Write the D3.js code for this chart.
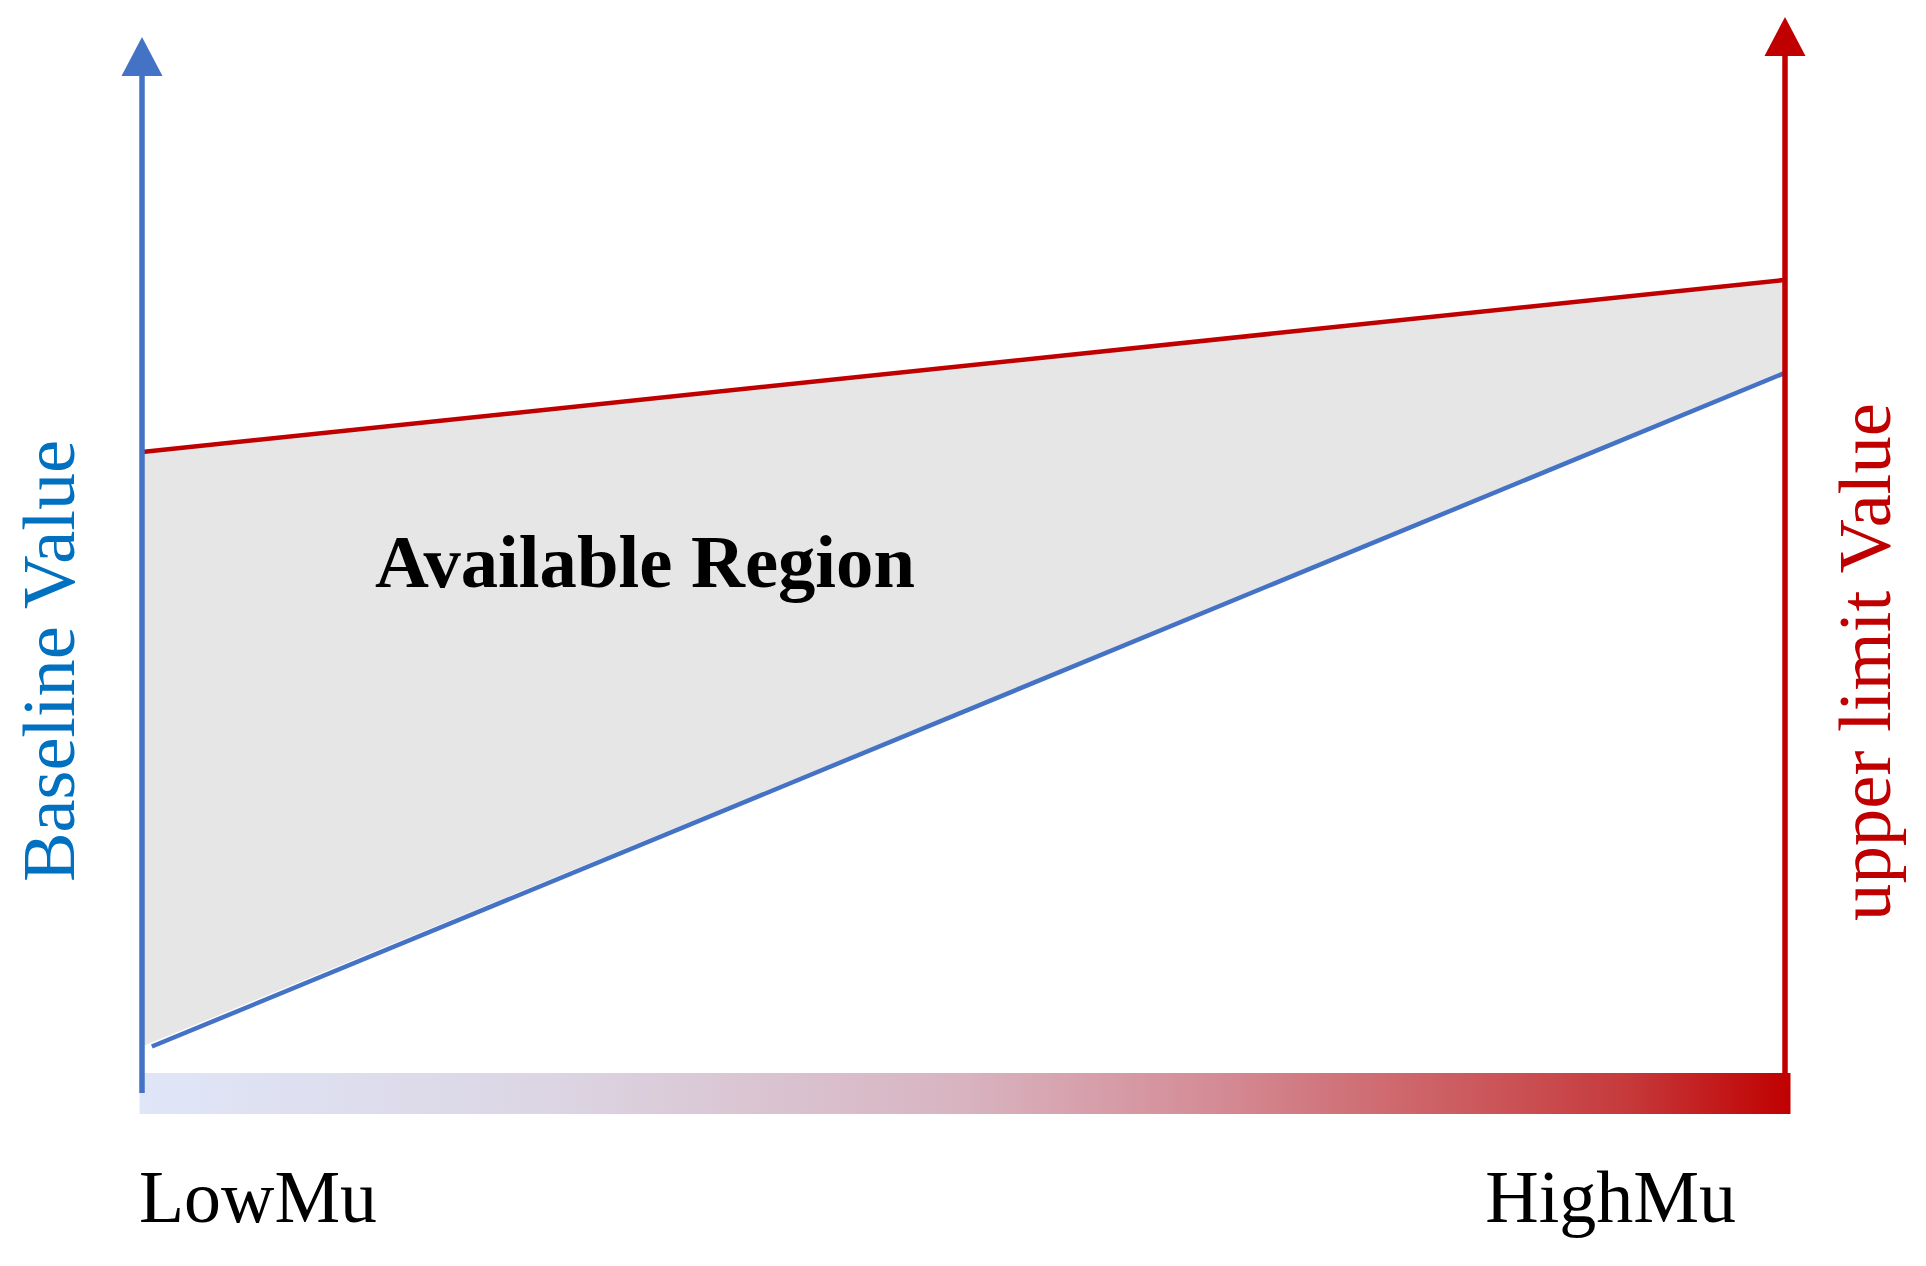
<!DOCTYPE html>
<html>
<head>
<meta charset="utf-8">
<script src="https://cdn.jsdelivr.net/npm/d3@7"></script>
<style>
  html, body { margin: 0; padding: 0; background: #fff; }
  svg { display: block; }
</style>
</head>
<body>
<svg id="chart" width="1926" height="1266"></svg>
<script>
// ---- data ----
const categories = ["LowMu", "HighMu"];
const muPositions = [0, 1];
const baselineMu = [0.006, 1];
const baselineValues = [4.4, 68.2];   // lower boundary (blue)
const upperValues = [60.7, 77.0];     // upper boundary (red)
const axisTitles = ["Baseline Value", "upper limit Value"];
const regionLabel = ["Available Region"];
const gradientStops = [
  [0.00, "#dfe6f8"], [0.25, "#dcd5e3"], [0.50, "#d8b3c0"],
  [0.65, "#d48c96"], [0.80, "#cc5c60"], [0.90, "#c63a3c"], [1.00, "#c00000"]
];

// ---- layout ----
const svg = d3.select("#chart");
const x = d3.scaleLinear().domain([0, 1]).range([142, 1785]);
const y = d3.scaleLinear().domain([0, 100]).range([1093, 37]);

const blue = "#4472c4", red = "#c00000", txtBlue = "#0070c0";
const serif = "'Liberation Serif', 'Times New Roman', serif";

// gradient bar
const defs = svg.append("defs");
const grad = defs.append("linearGradient").attr("id", "muGrad")
  .attr("x1", "0%").attr("x2", "100%").attr("y1", "0%").attr("y2", "0%");
grad.selectAll("stop").data(gradientStops).join("stop")
  .attr("offset", d => d[0]).attr("stop-color", d => d[1]);

svg.append("rect")
  .attr("x", x(0) - 2.5).attr("y", 1073)
  .attr("width", x(1) - x(0) + 8).attr("height", 41)
  .attr("fill", "url(#muGrad)");

// available region polygon
const area = d3.area()
  .x(d => x(d.mu))
  .y0(d => y(d.lo))
  .y1(d => y(d.hi));
const areaData = muPositions.map((m, i) => ({ mu: m, lo: baselineValues[i], hi: upperValues[i] }));
svg.append("path")
  .datum(areaData)
  .attr("d", area)
  .attr("fill", "#e6e6e6");

// lines
const line = d3.line().x(d => x(d[0])).y(d => y(d[1]));
svg.append("path")
  .datum(baselineMu.map((m, i) => [m, baselineValues[i]]))
  .attr("d", line).attr("fill", "none")
  .attr("stroke", blue).attr("stroke-width", 4.5);
svg.append("path")
  .datum(muPositions.map((m, i) => [m, upperValues[i]]))
  .attr("d", line).attr("fill", "none")
  .attr("stroke", red).attr("stroke-width", 4.5);

// axes with arrowheads
function arrowAxis(xPos, yBottom, yTip, color) {
  const headH = 39, headW = 41;
  svg.append("line")
    .attr("x1", xPos).attr("x2", xPos)
    .attr("y1", yBottom).attr("y2", yTip + headH)
    .attr("stroke", color).attr("stroke-width", 5.5);
  svg.append("path")
    .attr("d", `M${xPos},${yTip} L${xPos - headW / 2},${yTip + headH} L${xPos + headW / 2},${yTip + headH} Z`)
    .attr("fill", color);
}
arrowAxis(x(0), 1093, 37, blue);
arrowAxis(x(1), 1073, 17, red);

// axis titles
svg.append("text")
  .attr("transform", "translate(74,882) rotate(-90)")
  .attr("font-family", serif).attr("font-size", 73)
  .attr("fill", txtBlue)
  .attr("textLength", 442).attr("lengthAdjust", "spacingAndGlyphs")
  .text(axisTitles[0]);
svg.append("text")
  .attr("transform", "translate(1890,921) rotate(-90)")
  .attr("font-family", serif).attr("font-size", 74)
  .attr("fill", red)
  .attr("textLength", 518).attr("lengthAdjust", "spacingAndGlyphs")
  .text(axisTitles[1]);

// category labels
svg.append("text")
  .attr("x", 139).attr("y", 1222)
  .attr("font-family", serif).attr("font-size", 74).attr("fill", "#000")
  .attr("textLength", 238).attr("lengthAdjust", "spacingAndGlyphs")
  .text(categories[0]);
svg.append("text")
  .attr("x", 1736).attr("y", 1222).attr("text-anchor", "end")
  .attr("font-family", serif).attr("font-size", 74).attr("fill", "#000")
  .text(categories[1]);

// region label
svg.append("text")
  .attr("x", 375).attr("y", 587)
  .attr("font-family", serif).attr("font-size", 74).attr("font-weight", "bold")
  .attr("fill", "#000")
  .attr("textLength", 540).attr("lengthAdjust", "spacingAndGlyphs")
  .text(regionLabel[0]);
</script>
</body>
</html>
